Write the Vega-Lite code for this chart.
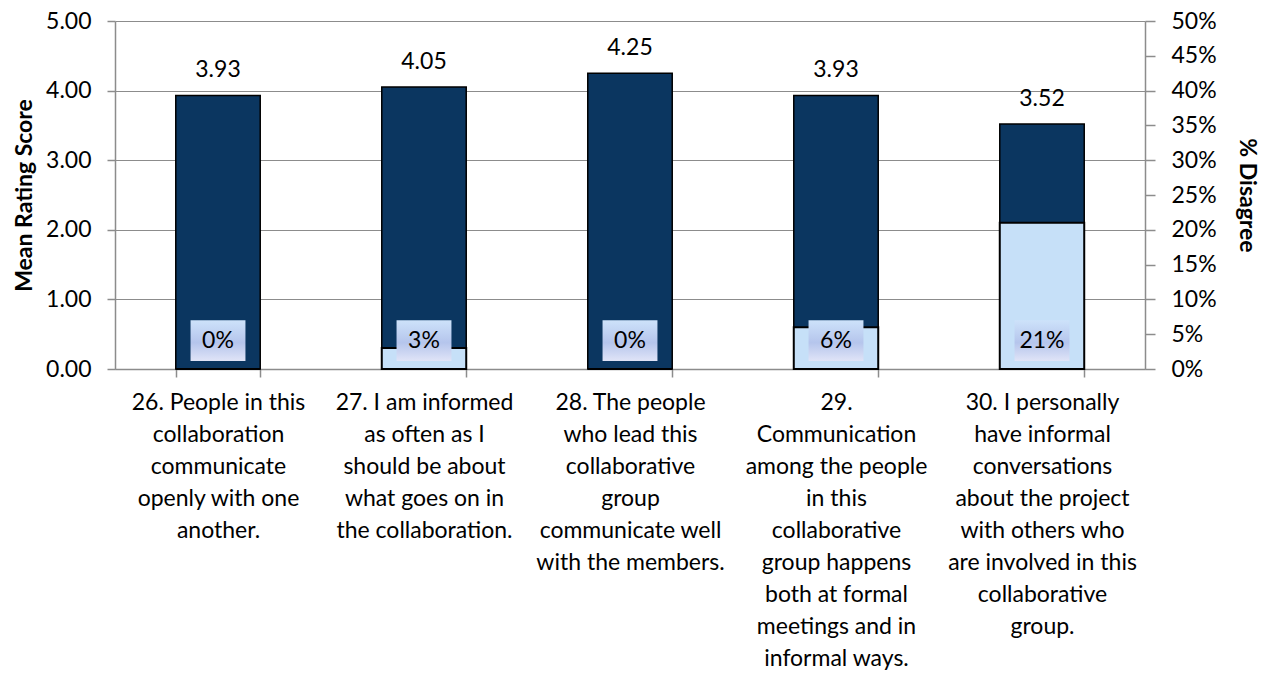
{
  "$schema": "https://vega.github.io/schema/vega-lite/v6.json",
  "autosize": "none",
  "width": 1030,
  "height": 348,
  "padding": {"left": 115, "top": 21, "right": 122, "bottom": 308},
  "background": "white",
  "config": {
    "view": {"stroke": null},
    "font": "Lato",
    "axis": {"labelFont": "Lato", "titleFont": "Lato", "labelColor": "#000000", "titleColor": "#000000", "domainColor": "#8c8c8c", "tickColor": "#8c8c8c", "gridColor": "#8c8c8c", "domainWidth": 1.5, "tickWidth": 1.5, "gridWidth": 1.2}
  },
  "data": {
    "values": [
      {"question": "26. People in this|collaboration|communicate|openly with one|another.", "mean": 3.93, "disagree": 0.0, "pct": "0%"},
      {"question": "27. I am informed|as often as I|should be about|what goes on in|the collaboration.", "mean": 4.05, "disagree": 0.03, "pct": "3%"},
      {"question": "28. The people|who lead this|collaborative|group|communicate well|with the members.", "mean": 4.25, "disagree": 0.0, "pct": "0%"},
      {"question": "29.|Communication|among the people|in this|collaborative|group happens|both at formal|meetings and in|informal ways.", "mean": 3.93, "disagree": 0.06, "pct": "6%"},
      {"question": "30. I personally|have informal|conversations|about the project|with others who|are involved in this|collaborative|group.", "mean": 3.52, "disagree": 0.21, "pct": "21%"}
    ]
  },
  "encoding": {
    "x": {
      "field": "question",
      "type": "nominal",
      "sort": null,
      "scale": {"paddingInner": 0.59, "paddingOuter": 0.295},
      "axis": {
        "title": null,
        "labelAngle": 0,
        "labelExpr": "split(datum.label, '|')",
        "labelFontSize": 23,
        "labelLineHeight": 32,
        "labelLimit": 400,
        "labelPadding": 14,
        "labelBaseline": "top",
        "tickBand": "extent",
        "tickSize": 8,
        "grid": false
      }
    }
  },
  "layer": [
    {
      "mark": {"type": "bar", "color": "#0B3660", "stroke": "#000000", "strokeWidth": 1.5},
      "encoding": {
        "y": {
          "field": "mean",
          "type": "quantitative",
          "scale": {"domain": [0, 5], "nice": false},
          "axis": {
            "orient": "left",
            "title": "Mean Rating Score",
            "titleFontSize": 23,
            "titleFontWeight": "bold",
            "titlePadding": 9,
            "labelFontSize": 23,
            "labelPadding": 16,
            "values": [0, 1, 2, 3, 4, 5],
            "format": ".2f",
            "tickSize": 8,
            "grid": true
          }
        }
      }
    },
    {
      "mark": {"type": "bar", "color": "#C6E0F8", "stroke": "#000000", "strokeWidth": 2},
      "encoding": {
        "y": {
          "field": "disagree",
          "type": "quantitative",
          "scale": {"domain": [0, 0.5], "nice": false},
          "axis": {
            "orient": "right",
            "title": "% Disagree",
            "titleFontSize": 23,
            "titleFontWeight": "bold",
            "titlePadding": 18,
            "labelFontSize": 23,
            "labelPadding": 16,
            "values": [0, 0.05, 0.1, 0.15, 0.2, 0.25, 0.3, 0.35, 0.4, 0.45, 0.5],
            "format": ".0%",
            "tickSize": 10,
            "grid": false
          }
        }
      }
    },
    {
      "mark": {
        "type": "bar",
        "width": {"band": 0.65},
        "fill": {
          "gradient": "linear", "x1": 0, "y1": 0, "x2": 0, "y2": 1,
          "stops": [
            {"offset": 0, "color": "#CDE2FA"},
            {"offset": 0.55, "color": "#B5C5EC"},
            {"offset": 1, "color": "#E0E4F7"}
          ]
        }
      },
      "encoding": {
        "y": {"datum": 0.115, "type": "quantitative", "scale": {"domain": [0, 5], "nice": false}, "axis": null},
        "y2": {"datum": 0.7}
      }
    },
    {
      "mark": {"type": "text", "fontSize": 23, "color": "#000000", "baseline": "middle"},
      "encoding": {
        "y": {"datum": 0.4, "type": "quantitative", "scale": {"domain": [0, 5], "nice": false}, "axis": null},
        "text": {"field": "pct"}
      }
    },
    {
      "mark": {"type": "text", "fontSize": 23, "color": "#000000", "baseline": "alphabetic", "dy": -18},
      "encoding": {
        "y": {"field": "mean", "type": "quantitative", "scale": {"domain": [0, 5], "nice": false}, "axis": null},
        "text": {"field": "mean", "format": ".2f"}
      }
    }
  ],
  "resolve": {"scale": {"y": "independent"}}
}
